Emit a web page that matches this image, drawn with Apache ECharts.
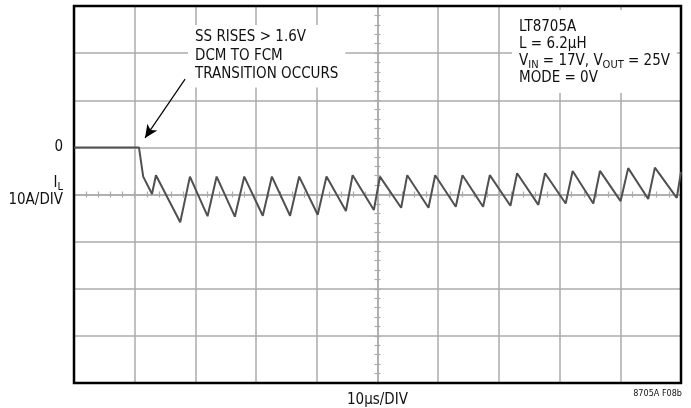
<!DOCTYPE html>
<html><head><meta charset="utf-8">
<script src="https://cdn.jsdelivr.net/npm/echarts@6/dist/echarts.min.js"></script>
<style>html,body{margin:0;padding:0;background:#fff}#c{width:691px;height:408px}</style>
</head><body><div id="c"></div>
<script>
const FONT = "'Liberation Sans Narrow','DejaVu Sans Condensed',Roboto,sans-serif";
// time axis (µs), 10 µs/div
const timeUs = [0, 10.7, 11.4, 12.85, 13.5, 17.5, 19.1, 22.0, 23.5, 26.5, 28.05, 31.1, 32.6, 35.6, 37.1, 40.15, 41.6, 44.8, 45.9, 49.4, 50.4, 53.9, 54.9, 58.4, 59.5, 62.9, 64.0, 67.4, 68.5, 71.9, 73.0, 76.5, 77.6, 81.0, 82.15, 85.55, 86.65, 90.05, 91.3, 94.6, 95.7, 99.3, 100];
// inductor current (A), 10 A/div
const currentA = [0, 0, -6.2, -9.9, -5.9, -15.9, -6.2, -14.6, -6.2, -14.7, -6.2, -14.5, -6.2, -14.5, -6.2, -14.3, -6.2, -13.5, -5.9, -13.3, -6.2, -12.8, -5.9, -12.8, -5.9, -12.6, -5.9, -12.6, -5.9, -12.4, -5.5, -12.2, -5.5, -11.9, -5.0, -11.9, -5.0, -11.4, -4.4, -10.95, -4.3, -10.7, -5.2];
const xRange = [0, 100];
const yRange = [-50, 30];
const arrowFrom = [18.3, 14.5];
const arrowTo = [11.7, 2.0];
const noteLeft = ['SS RISES > 1.6V', 'DCM TO FCM', 'TRANSITION OCCURS'];
const xName = '10µs/DIV';
const figId = '8705A F08b';

const gridCol = '#ababab';
const chart = echarts.init(document.getElementById('c'), null, {renderer: 'canvas'});
const none = {show: false};
const centerAxisX = (inside) => ({
  type: 'value', min: xRange[0], max: xRange[1], interval: 2,
  axisLine: {show: inside, onZero: true, onZeroAxisIndex: 1, lineStyle: {color: gridCol, width: 1.5}},
  axisTick: {show: true, inside: inside, length: 3, lineStyle: {color: gridCol, width: 1.2}},
  axisLabel: none, splitLine: none
});
const centerAxisY = (inside) => ({
  type: 'value', min: yRange[0], max: yRange[1], interval: 2,
  axisLine: {show: inside, onZero: true, onZeroAxisIndex: 3, lineStyle: {color: gridCol, width: 1.5}},
  axisTick: {show: true, inside: inside, length: 3, lineStyle: {color: gridCol, width: 1.2}},
  axisLabel: none, splitLine: none
});
chart.setOption({
  animation: false,
  backgroundColor: '#fff',
  grid: {left: 74, right: 10, top: 6, bottom: 25, show: true, z: 3, borderColor: '#000', borderWidth: 2.5, backgroundColor: 'transparent', containLabel: false, outerBoundsMode: 'none'},
  xAxis: [
    {type: 'value', min: xRange[0], max: xRange[1], interval: 10,
     axisLine: none, axisTick: none, axisLabel: none,
     splitLine: {show: true, lineStyle: {color: gridCol, width: 1.5}},
     name: xName, nameLocation: 'middle', nameGap: 10,
     nameTextStyle: {fontFamily: FONT, fontSize: 15, color: '#111'}},
    centerAxisX(true),
    centerAxisX(false),
    {type: 'value', min: -50, max: 50, show: false}
  ],
  yAxis: [
    {type: 'value', min: yRange[0], max: yRange[1], interval: 10,
     axisLine: none, axisTick: none,
     axisLabel: {show: true, margin: 11, fontFamily: FONT, fontSize: 15, color: '#111', formatter: v => v === 0 ? '0' : ''},
     splitLine: {show: true, lineStyle: {color: gridCol, width: 1.5}}},
    {type: 'value', min: -40, max: 40, show: false},
    centerAxisY(true),
    centerAxisY(false)
  ],
  series: [{
    type: 'line', xAxisIndex: 0, yAxisIndex: 0,
    data: timeUs.map((t, i) => [t, currentA[i]]),
    showSymbol: false, symbol: 'none',
    lineStyle: {color: '#505050', width: 2},
    z: 5,
    markLine: {
      silent: true, symbol: ['none', 'arrow'], symbolSize: [9, 13],
      label: none,
      lineStyle: {color: '#000', width: 1.2, type: 'solid'},
      data: [[{coord: arrowFrom}, {coord: arrowTo}]]
    }
  }],
  graphic: [
    {type: 'text', left: 188, top: 25, z: 4, style: {text: noteLeft.join('\n'), fontFamily: FONT, fontSize: 15, lineHeight: 18.5, fill: '#111',
      backgroundColor: '#fff', padding: [3, 7, 4, 7]}},
    {type: 'text', left: 512, top: 10, z: 4, style: {
      text: 'LT8705A\nL = 6.2µH\nV{sub|IN} = 17V, V{sub|OUT} = 25V\nMODE = 0V',
      fontFamily: FONT, fontSize: 15, lineHeight: 17, fill: '#111',
      backgroundColor: '#fff', padding: [9, 7, 6, 7],
      rich: {sub: {fontFamily: FONT, fontSize: 11, lineHeight: 11, padding: [8, 0, 0, 0], fill: '#111'}}
    }},
    {type: 'text', right: 691 - 63, top: 174, style: {
      text: 'I{sub|L}', fontFamily: FONT, fontSize: 15, lineHeight: 17, fill: '#111', align: 'right',
      rich: {sub: {fontFamily: FONT, fontSize: 11, lineHeight: 11, padding: [8, 0, 0, 0], fill: '#111'}}
    }},
    {type: 'text', right: 691 - 63, top: 193, style: {text: '10A/DIV', fontFamily: FONT, fontSize: 15, fill: '#111', align: 'right'}},
    {type: 'text', right: 691 - 682, top: 389, style: {text: figId, fontFamily: FONT, fontSize: 9, fill: '#111', align: 'right'}}
  ]
});
</script></body></html>
